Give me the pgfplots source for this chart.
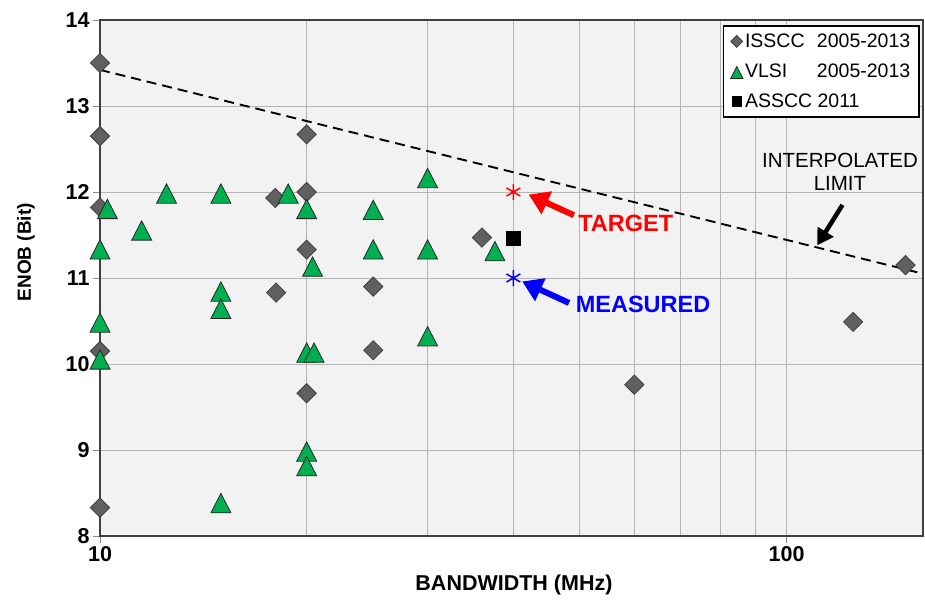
\documentclass[border=0pt]{standalone}
\usepackage{fontspec}
\setmainfont{Liberation Sans}
\usepackage{pgfplots}
\pgfplotsset{compat=1.18}
\usetikzlibrary{arrows.meta}
\definecolor{bg}{HTML}{F2F2F2}
\definecolor{isg}{HTML}{606060}
\definecolor{isgd}{HTML}{404040}
\definecolor{vlsi}{HTML}{00B050}
\definecolor{gridc}{HTML}{B4B4B4}
\begin{document}
\begin{tikzpicture}
\useasboundingbox (-100pt,-70pt) rectangle (825pt,536pt);
\begin{axis}[
  at={(0pt,0pt)}, anchor=south west,
  scale only axis, width=823pt, height=516pt,
  xmode=log, log basis x=10,
  xmin=10, xmax=158, ymin=8, ymax=14,
  xtick={10,100}, xticklabels={10,100},
  minor xtick={20,30,40,50,60,70,80,90},
  ytick={8,9,10,11,12,13,14},
  grid=both,
  major grid style={color=gridc, line width=1pt},
  minor grid style={color=gridc, line width=1pt},
  axis background/.style={fill=bg},
  axis line style={draw=black!75, line width=1.4pt},
  tick style={color=black!45, line width=0.8pt},
  tick align=outside, major tick length=7pt, minor tick length=0pt,
  xtick pos=bottom, ytick pos=left,
  /pgf/number format/assume math mode=true,
  ticklabel style={font=\fontsize{21.5}{22}\selectfont\bfseries},
  xlabel={BANDWIDTH (MHz)}, ylabel={ENOB (Bit)},
  xlabel style={font=\fontsize{21.5}{22}\selectfont\bfseries, at={(axis description cs:0.503,-0.095)}, anchor=center},
  ylabel style={font=\fontsize{19}{20}\selectfont\bfseries, at={(axis description cs:-0.09,0.55)}, anchor=center},
  legend style={at={(rel axis cs:0.9964,0.9903)}, anchor=north east, draw=black, line width=1.6pt, fill=white,
    font=\fontsize{19.5}{22}\selectfont, row sep=11pt, inner xsep=7pt, inner ysep=6pt, cells={anchor=west}},
  legend cell align=left,
  legend image code/.code={\draw[#1, every mark/.append style={scale=0.62}] plot coordinates {(0.1cm,0cm)};},
  clip=false,
]
\addplot[only marks, mark=square*, mark size=6.8pt, mark options={rotate=45, fill=isg, draw=isgd, line width=0.8pt}] table {
x y
10 13.5
10 12.65
10 11.82
10 10.15
10 8.33
18.0 11.93
18.05 10.83
20 12.67
20 12.0
20 11.33
20 9.66
25 10.9
25 10.16
36 11.47
60 9.76
125 10.49
149 11.15
};
\addlegendentry{\makebox[72pt][l]{ISSCC}2005-2013}
\addplot[only marks, mark=triangle*, mark size=11.5pt, mark options={yshift=-3pt, yscale=1.12, fill=vlsi, draw=black!85, line width=0.8pt}] table {
x y
10 11.33
10.25 11.80
11.5 11.55
12.5 11.98
15 11.98
18.8 11.98
20 11.80
20.4 11.13
10 10.48
10 10.05
15 10.84
15 10.64
20 10.13
20.5 10.13
20 8.98
20 8.81
15 8.38
25 11.79
25 11.33
30 12.16
30 11.33
37.6 11.31
30 10.32
};
\addlegendentry{\makebox[72pt][l]{VLSI}2005-2013}
\addplot[only marks, mark=square*, mark size=7pt, mark options={fill=black, draw=black}] table {
x y
40 11.46
};
\addlegendentry{ASSCC 2011}
\addplot[forget plot, only marks, mark=asterisk, mark size=8pt, red, line width=1.5pt] coordinates {(40,12.0)};
\addplot[forget plot, only marks, mark=asterisk, mark size=8pt, blue, line width=1.5pt] coordinates {(40,11.0)};
\addplot[forget plot, black, line width=1.9pt, dash pattern=on 10pt off 6pt] coordinates {(10,13.42) (158,11.05)};
\draw[red, line width=6pt, -{Triangle[length=20pt,width=24pt]}] (axis cs:49,11.73) -- (axis cs:42.1,11.97);
\draw[blue, line width=6pt, -{Triangle[length=20pt,width=24pt]}] (axis cs:48.2,10.71) -- (axis cs:41.2,10.96);
\draw[black, line width=4.5pt, -{Triangle[length=16pt,width=18pt]}] (axis cs:120.6,11.85) -- (axis cs:110.8,11.38);
\node[red, font=\fontsize{23.5}{24}\selectfont\bfseries] at (axis cs:58.3,11.63) {TARGET};
\node[blue, font=\fontsize{23.5}{24}\selectfont\bfseries] at (axis cs:61.8,10.69) {MEASURED};
\node[align=center, font=\fontsize{20.5}{23}\selectfont, inner sep=0pt] at (axis cs:119.6,12.23) {INTERPOLATED\\LIMIT};
\end{axis}
\end{tikzpicture}
\end{document}
